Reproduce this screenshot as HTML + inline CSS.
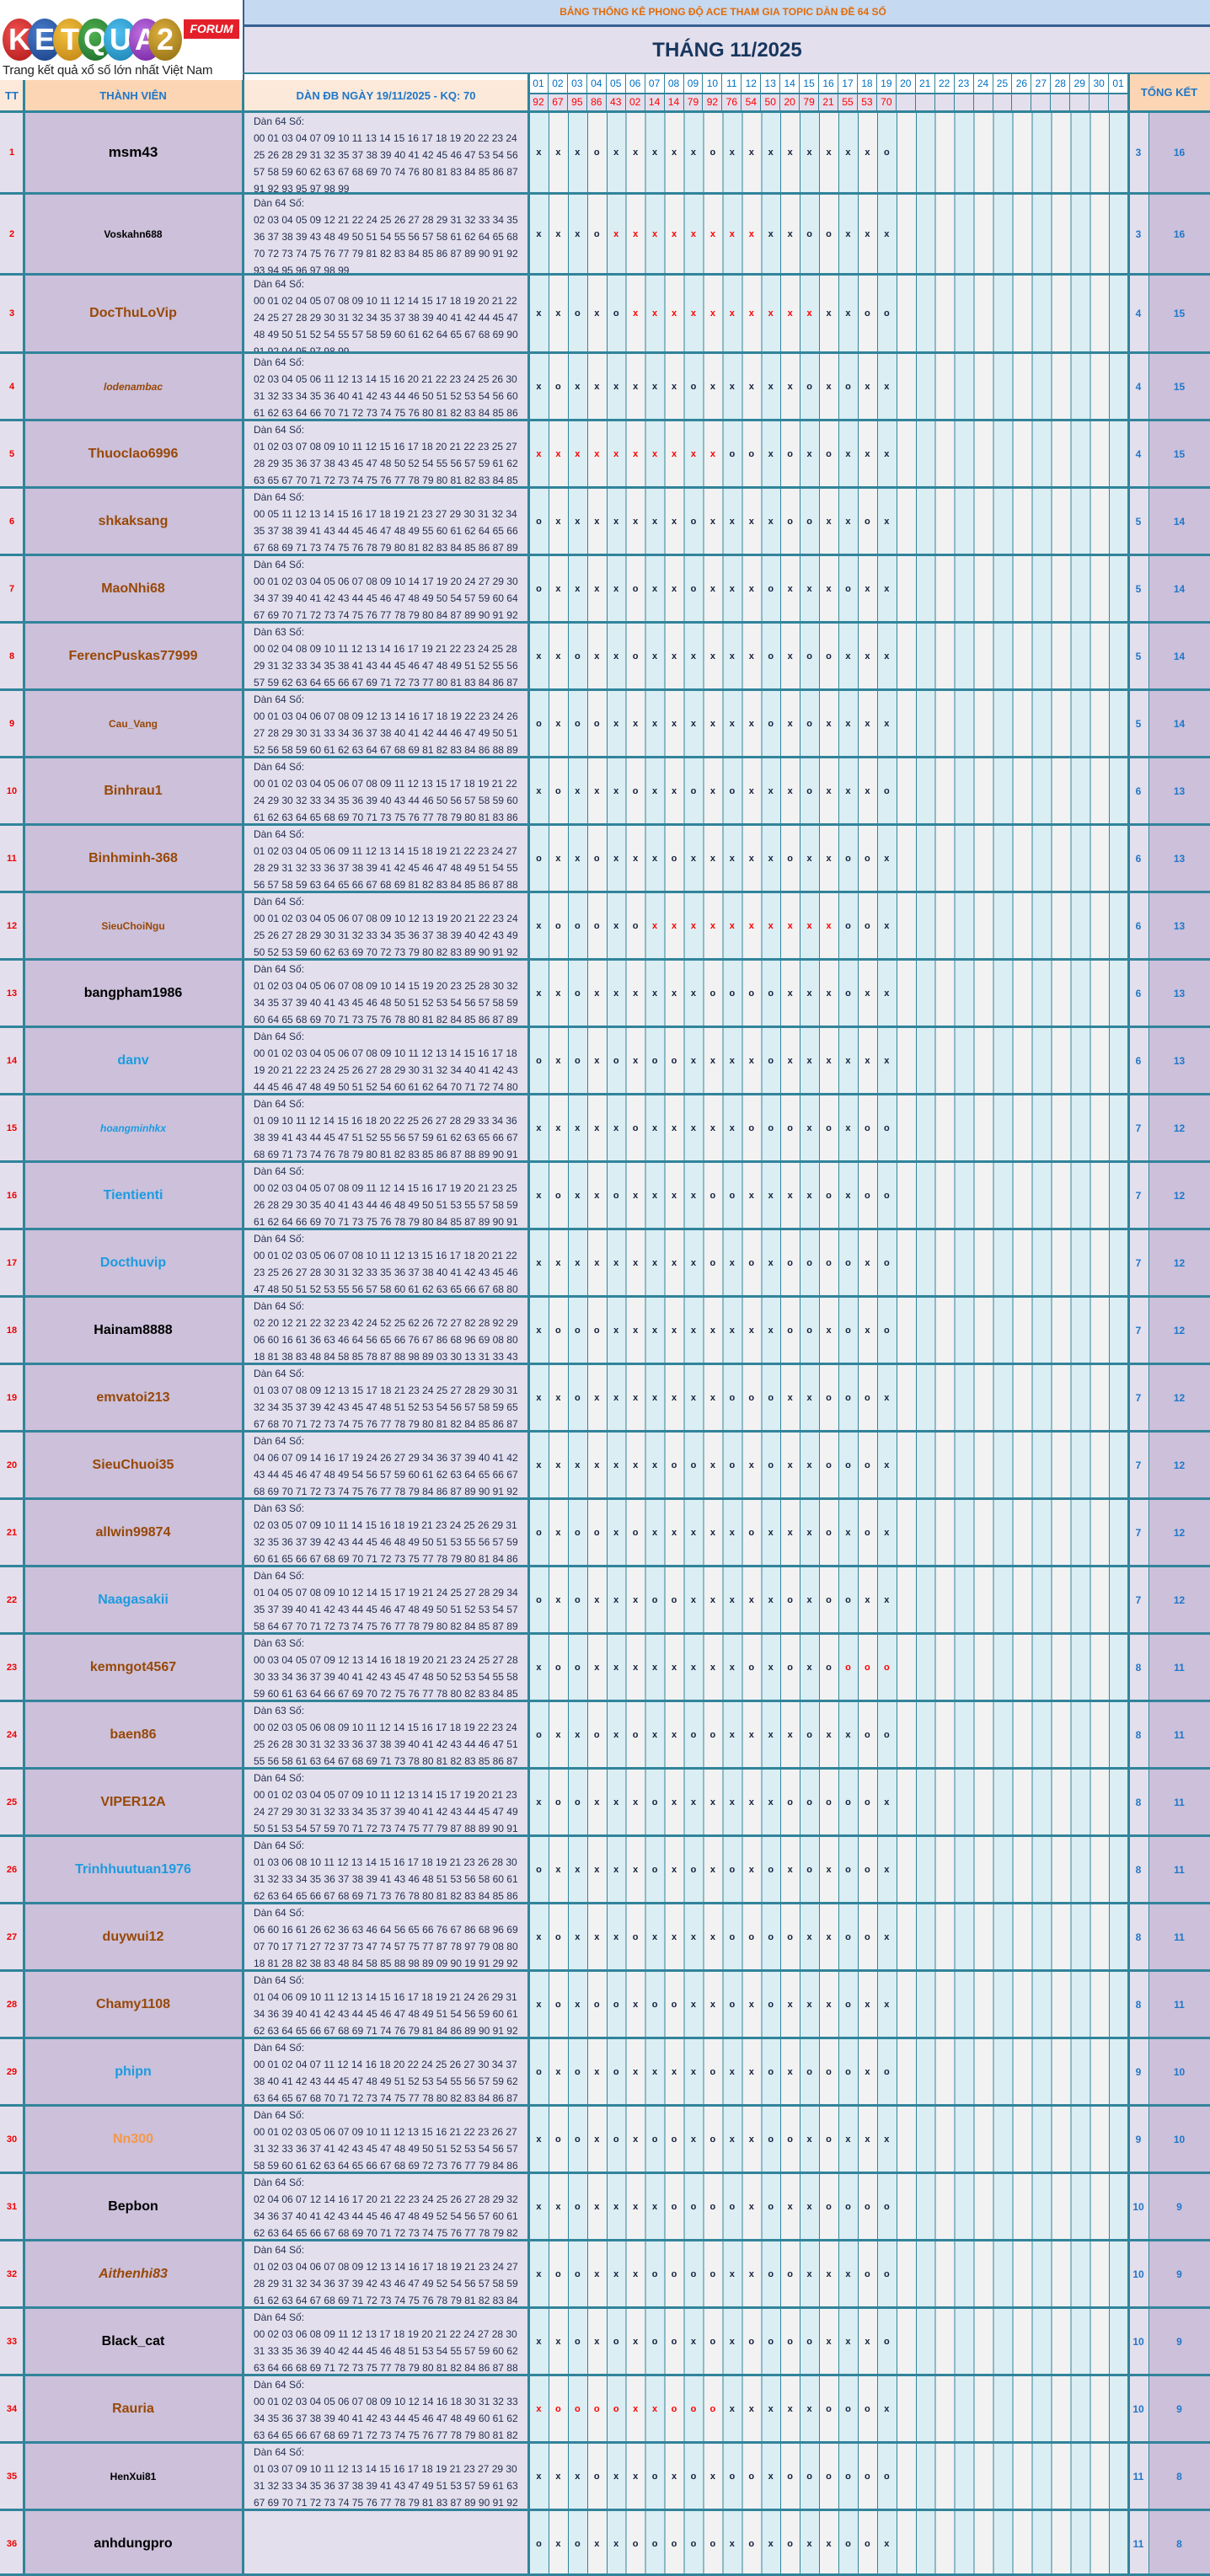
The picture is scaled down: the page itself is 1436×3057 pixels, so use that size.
<!DOCTYPE html>
<html><head><meta charset="utf-8">
<style>
*{box-sizing:border-box;margin:0;padding:0}
body{width:1436px;height:3057px;overflow:hidden;background:#fff;position:relative;font-family:"Liberation Sans","DejaVu Sans",sans-serif}
.a{position:absolute}
.logo{left:0;top:0;width:290px;height:95px;background:#fff}
.ball{position:absolute;top:22px;width:40px;height:50px;border-radius:50%;color:#fff;font-weight:bold;font-size:36px;line-height:50px;text-align:center;font-family:"Liberation Sans",sans-serif}
.days{left:628px;top:131px;width:711px;height:2926px;background:repeating-linear-gradient(to right,#31849b 0,#31849b 1px,#daeef3 1px,#daeef3 22.94px,#31849b 22.94px,#31849b 23.94px,#f2f2f2 23.94px,#f2f2f2 45.88px)}
.row{position:absolute;left:0;width:1436px;border-top:3px solid #31849b}
.row>div{position:absolute;top:0;height:100%}
.tt{left:0;width:28px;background:#e4dfec;color:#e00;font-weight:bold;font-size:11px;display:flex;align-items:center;justify-content:center}
.nm{left:28px;width:260px;background:#ccc0da;font-weight:bold;font-size:16px;display:flex;align-items:center;justify-content:center;color:#000}
.dn{left:288px;width:340px;background:#e4dfec;color:#1f2d4f;font-size:12px;line-height:20px;padding-left:13px;overflow:hidden;white-space:nowrap}
.mk{left:628px;width:711px;display:flex;align-items:center;white-space:nowrap;font-size:11px;font-weight:bold;color:#14213d}
.mk b{display:inline-block;width:22.94px;text-align:center}
.mk b.r{color:#f00}
.t1{left:1339px;width:24px;background:#e4dfec;color:#1f77c9;font-weight:bold;font-size:12px;display:flex;align-items:center;justify-content:center}
.t2{left:1363px;width:73px;background:#ccc0da;color:#1f77c9;font-weight:bold;font-size:12px;display:flex;align-items:center;justify-content:center}
.br{color:#984807}.bl{color:#1c9be0}.sm{font-size:12px}.it{font-style:italic}.or{color:#f79646}
.vl{position:absolute;background:#31849b}
.hd{position:absolute;top:95px;height:36px;display:flex;align-items:center;justify-content:center;color:#1f77c9;font-weight:bold;font-size:13px}
.dnum{position:absolute;top:88px;left:628px;width:711px;height:22px;display:flex;background:#fff}
.dnum span{width:22.94px;text-align:center;font-size:12px;color:#0070c0;line-height:22px;border-right:1px solid #31849b}
.res{position:absolute;top:110px;left:628px;width:711px;height:21px;display:flex;background:#e4dfec;border-top:2px solid #31849b}
.res span{width:22.94px;text-align:center;font-size:12px;color:#f00;line-height:19px;border-right:1px solid #31849b}
</style></head><body>
<div class="a logo">
<div class="ball" style="left:3px;background:radial-gradient(circle at 40% 35%,#f05050,#b01818)">K</div>
<div class="ball" style="left:33px;background:radial-gradient(circle at 40% 35%,#4a7fd0,#163c80)">E</div>
<div class="ball" style="left:63px;background:radial-gradient(circle at 40% 35%,#f0c040,#c08010)">T</div>
<div class="ball" style="left:93px;background:radial-gradient(circle at 40% 35%,#50b050,#1a6a2a)">Q</div>
<div class="ball" style="left:123px;background:radial-gradient(circle at 40% 35%,#50c0f0,#1880b0)">U</div>
<div class="ball" style="left:153px;background:radial-gradient(circle at 40% 35%,#c070e0,#7020a0)">A</div>
<div class="ball" style="left:176px;background:radial-gradient(circle at 40% 35%,#e0b040,#8a6a10)">2</div>
<div class="a" style="left:218px;top:23px;width:66px;height:23px;background:#e3202a;color:#fff;font-weight:bold;font-style:italic;font-size:14px;line-height:23px;text-align:center">FORUM</div>
<div class="a" style="left:3px;top:75px;width:285px;font-size:15px;color:#222;white-space:nowrap;letter-spacing:-0.2px">Trang kết quả xổ số lớn nhất Việt Nam</div>
</div>
<div class="a" style="left:290px;top:0;width:1146px;height:29px;background:#c5d9f1;color:#e26b0a;font-weight:bold;font-size:12px;line-height:29px;text-align:center;padding-right:10px">BẢNG THỐNG KÊ PHONG ĐỘ ACE THAM GIA TOPIC DÀN ĐỀ 64 SỐ</div>
<div class="a" style="left:290px;top:29px;width:1146px;height:3px;background:#376092"></div>
<div class="a" style="left:290px;top:32px;width:1146px;height:56px;background:#e4dfec;color:#17375e;font-weight:bold;font-size:24px;line-height:56px;text-align:center">THÁNG 11/2025</div>
<div class="a" style="left:288px;top:0;width:2px;height:95px;background:#376092"></div>
<div class="a" style="left:288px;top:86px;width:1148px;height:2px;background:#31849b"></div>
<div class="hd" style="left:0;width:28px;background:#fde9d9">TT</div>
<div class="hd" style="left:28px;width:260px;background:#fcd5b4">THÀNH VIÊN</div>
<div class="hd" style="left:288px;width:340px;background:#fde9d9">DÀN ĐB NGÀY 19/11/2025 - KQ: 70</div>
<div class="hd" style="left:1339px;width:97px;top:88px;height:43px;background:#fcd5b4">TỔNG KẾT</div>
<div class="dnum"><span>01</span><span>02</span><span>03</span><span>04</span><span>05</span><span>06</span><span>07</span><span>08</span><span>09</span><span>10</span><span>11</span><span>12</span><span>13</span><span>14</span><span>15</span><span>16</span><span>17</span><span>18</span><span>19</span><span>20</span><span>21</span><span>22</span><span>23</span><span>24</span><span>25</span><span>26</span><span>27</span><span>28</span><span>29</span><span>30</span><span>01</span></div>
<div class="res"><span>92</span><span>67</span><span>95</span><span>86</span><span>43</span><span>02</span><span>14</span><span>14</span><span>79</span><span>92</span><span>76</span><span>54</span><span>50</span><span>20</span><span>79</span><span>21</span><span>55</span><span>53</span><span>70</span><span></span><span></span><span></span><span></span><span></span><span></span><span></span><span></span><span></span><span></span><span></span><span></span></div>
<div class="a days"></div>

<div class="row" style="top:131px;height:97px"><div class="tt">1</div><div class="nm" style="font-size:17px">msm43</div><div class="dn">Dàn 64 Số:<br>00 01 03 04 07 09 10 11 13 14 15 16 17 18 19 20 22 23 24<br>25 26 28 29 31 32 35 37 38 39 40 41 42 45 46 47 53 54 56<br>57 58 59 60 62 63 67 68 69 70 74 76 80 81 83 84 85 86 87<br>91 92 93 95 97 98 99</div><div class="mk"><b>x</b><b>x</b><b>x</b><b>o</b><b>x</b><b>x</b><b>x</b><b>x</b><b>x</b><b>o</b><b>x</b><b>x</b><b>x</b><b>x</b><b>x</b><b>x</b><b>x</b><b>x</b><b>o</b></div><div class="t1">3</div><div class="t2">16</div></div>

<div class="row" style="top:228px;height:96px"><div class="tt">2</div><div class="nm sm">Voskahn688</div><div class="dn">Dàn 64 Số:<br>02 03 04 05 09 12 21 22 24 25 26 27 28 29 31 32 33 34 35<br>36 37 38 39 43 48 49 50 51 54 55 56 57 58 61 62 64 65 68<br>70 72 73 74 75 76 77 79 81 82 83 84 85 86 87 89 90 91 92<br>93 94 95 96 97 98 99</div><div class="mk"><b>x</b><b>x</b><b>x</b><b>o</b><b class="r">x</b><b class="r">x</b><b class="r">x</b><b class="r">x</b><b class="r">x</b><b class="r">x</b><b class="r">x</b><b class="r">x</b><b>x</b><b>x</b><b>o</b><b>o</b><b>x</b><b>x</b><b>x</b></div><div class="t1">3</div><div class="t2">16</div></div>

<div class="row" style="top:324px;height:93px"><div class="tt">3</div><div class="nm br">DocThuLoVip</div><div class="dn">Dàn 64 Số:<br>00 01 02 04 05 07 08 09 10 11 12 14 15 17 18 19 20 21 22<br>24 25 27 28 29 30 31 32 34 35 37 38 39 40 41 42 44 45 47<br>48 49 50 51 52 54 55 57 58 59 60 61 62 64 65 67 68 69 90<br>91 92 94 95 97 98 99</div><div class="mk"><b>x</b><b>x</b><b>o</b><b>x</b><b>o</b><b class="r">x</b><b class="r">x</b><b class="r">x</b><b class="r">x</b><b class="r">x</b><b class="r">x</b><b class="r">x</b><b class="r">x</b><b class="r">x</b><b class="r">x</b><b>x</b><b>x</b><b>o</b><b>o</b></div><div class="t1">4</div><div class="t2">15</div></div>

<div class="row" style="top:417px;height:80px"><div class="tt">4</div><div class="nm br sm it">lodenambac</div><div class="dn">Dàn 64 Số:<br>02 03 04 05 06 11 12 13 14 15 16 20 21 22 23 24 25 26 30<br>31 32 33 34 35 36 40 41 42 43 44 46 50 51 52 53 54 56 60<br>61 62 63 64 66 70 71 72 73 74 75 76 80 81 82 83 84 85 86</div><div class="mk"><b>x</b><b>o</b><b>x</b><b>x</b><b>x</b><b>x</b><b>x</b><b>x</b><b>o</b><b>x</b><b>x</b><b>x</b><b>x</b><b>x</b><b>o</b><b>x</b><b>o</b><b>x</b><b>x</b></div><div class="t1">4</div><div class="t2">15</div></div>

<div class="row" style="top:497px;height:80px"><div class="tt">5</div><div class="nm br">Thuoclao6996</div><div class="dn">Dàn 64 Số:<br>01 02 03 07 08 09 10 11 12 15 16 17 18 20 21 22 23 25 27<br>28 29 35 36 37 38 43 45 47 48 50 52 54 55 56 57 59 61 62<br>63 65 67 70 71 72 73 74 75 76 77 78 79 80 81 82 83 84 85</div><div class="mk"><b class="r">x</b><b class="r">x</b><b class="r">x</b><b class="r">x</b><b class="r">x</b><b class="r">x</b><b class="r">x</b><b class="r">x</b><b class="r">x</b><b class="r">x</b><b>o</b><b>o</b><b>x</b><b>o</b><b>x</b><b>o</b><b>x</b><b>x</b><b>x</b></div><div class="t1">4</div><div class="t2">15</div></div>

<div class="row" style="top:577px;height:80px"><div class="tt">6</div><div class="nm br">shkaksang</div><div class="dn">Dàn 64 Số:<br>00 05 11 12 13 14 15 16 17 18 19 21 23 27 29 30 31 32 34<br>35 37 38 39 41 43 44 45 46 47 48 49 55 60 61 62 64 65 66<br>67 68 69 71 73 74 75 76 78 79 80 81 82 83 84 85 86 87 89</div><div class="mk"><b>o</b><b>x</b><b>x</b><b>x</b><b>x</b><b>x</b><b>x</b><b>x</b><b>o</b><b>x</b><b>x</b><b>x</b><b>x</b><b>o</b><b>o</b><b>x</b><b>x</b><b>o</b><b>x</b></div><div class="t1">5</div><div class="t2">14</div></div>

<div class="row" style="top:657px;height:80px"><div class="tt">7</div><div class="nm br">MaoNhi68</div><div class="dn">Dàn 64 Số:<br>00 01 02 03 04 05 06 07 08 09 10 14 17 19 20 24 27 29 30<br>34 37 39 40 41 42 43 44 45 46 47 48 49 50 54 57 59 60 64<br>67 69 70 71 72 73 74 75 76 77 78 79 80 84 87 89 90 91 92</div><div class="mk"><b>o</b><b>x</b><b>x</b><b>x</b><b>x</b><b>o</b><b>x</b><b>x</b><b>o</b><b>x</b><b>x</b><b>x</b><b>o</b><b>x</b><b>x</b><b>x</b><b>o</b><b>x</b><b>x</b></div><div class="t1">5</div><div class="t2">14</div></div>

<div class="row" style="top:737px;height:80px"><div class="tt">8</div><div class="nm br">FerencPuskas77999</div><div class="dn">Dàn 63 Số:<br>00 02 04 08 09 10 11 12 13 14 16 17 19 21 22 23 24 25 28<br>29 31 32 33 34 35 38 41 43 44 45 46 47 48 49 51 52 55 56<br>57 59 62 63 64 65 66 67 69 71 72 73 77 80 81 83 84 86 87</div><div class="mk"><b>x</b><b>x</b><b>o</b><b>x</b><b>x</b><b>o</b><b>x</b><b>x</b><b>x</b><b>x</b><b>x</b><b>x</b><b>o</b><b>x</b><b>o</b><b>o</b><b>x</b><b>x</b><b>x</b></div><div class="t1">5</div><div class="t2">14</div></div>

<div class="row" style="top:817px;height:80px"><div class="tt">9</div><div class="nm br sm">Cau_Vang</div><div class="dn">Dàn 64 Số:<br>00 01 03 04 06 07 08 09 12 13 14 16 17 18 19 22 23 24 26<br>27 28 29 30 31 33 34 36 37 38 40 41 42 44 46 47 49 50 51<br>52 56 58 59 60 61 62 63 64 67 68 69 81 82 83 84 86 88 89</div><div class="mk"><b>o</b><b>x</b><b>o</b><b>o</b><b>x</b><b>x</b><b>x</b><b>x</b><b>x</b><b>x</b><b>x</b><b>x</b><b>o</b><b>x</b><b>o</b><b>x</b><b>x</b><b>x</b><b>x</b></div><div class="t1">5</div><div class="t2">14</div></div>

<div class="row" style="top:897px;height:80px"><div class="tt">10</div><div class="nm br">Binhrau1</div><div class="dn">Dàn 64 Số:<br>00 01 02 03 04 05 06 07 08 09 11 12 13 15 17 18 19 21 22<br>24 29 30 32 33 34 35 36 39 40 43 44 46 50 56 57 58 59 60<br>61 62 63 64 65 68 69 70 71 73 75 76 77 78 79 80 81 83 86</div><div class="mk"><b>x</b><b>o</b><b>x</b><b>x</b><b>x</b><b>o</b><b>x</b><b>x</b><b>o</b><b>x</b><b>o</b><b>x</b><b>x</b><b>x</b><b>o</b><b>x</b><b>x</b><b>x</b><b>o</b></div><div class="t1">6</div><div class="t2">13</div></div>

<div class="row" style="top:977px;height:80px"><div class="tt">11</div><div class="nm br">Binhminh-368</div><div class="dn">Dàn 64 Số:<br>01 02 03 04 05 06 09 11 12 13 14 15 18 19 21 22 23 24 27<br>28 29 31 32 33 36 37 38 39 41 42 45 46 47 48 49 51 54 55<br>56 57 58 59 63 64 65 66 67 68 69 81 82 83 84 85 86 87 88</div><div class="mk"><b>o</b><b>x</b><b>x</b><b>o</b><b>x</b><b>x</b><b>x</b><b>o</b><b>x</b><b>x</b><b>x</b><b>x</b><b>x</b><b>o</b><b>x</b><b>x</b><b>o</b><b>o</b><b>x</b></div><div class="t1">6</div><div class="t2">13</div></div>

<div class="row" style="top:1057px;height:80px"><div class="tt">12</div><div class="nm br sm">SieuChoiNgu</div><div class="dn">Dàn 64 Số:<br>00 01 02 03 04 05 06 07 08 09 10 12 13 19 20 21 22 23 24<br>25 26 27 28 29 30 31 32 33 34 35 36 37 38 39 40 42 43 49<br>50 52 53 59 60 62 63 69 70 72 73 79 80 82 83 89 90 91 92</div><div class="mk"><b>x</b><b>o</b><b>o</b><b>o</b><b>x</b><b>o</b><b class="r">x</b><b class="r">x</b><b class="r">x</b><b class="r">x</b><b class="r">x</b><b class="r">x</b><b class="r">x</b><b class="r">x</b><b class="r">x</b><b class="r">x</b><b>o</b><b>o</b><b>x</b></div><div class="t1">6</div><div class="t2">13</div></div>

<div class="row" style="top:1137px;height:80px"><div class="tt">13</div><div class="nm">bangpham1986</div><div class="dn">Dàn 64 Số:<br>01 02 03 04 05 06 07 08 09 10 14 15 19 20 23 25 28 30 32<br>34 35 37 39 40 41 43 45 46 48 50 51 52 53 54 56 57 58 59<br>60 64 65 68 69 70 71 73 75 76 78 80 81 82 84 85 86 87 89</div><div class="mk"><b>x</b><b>x</b><b>o</b><b>x</b><b>x</b><b>x</b><b>x</b><b>x</b><b>x</b><b>o</b><b>o</b><b>o</b><b>o</b><b>x</b><b>x</b><b>x</b><b>o</b><b>x</b><b>x</b></div><div class="t1">6</div><div class="t2">13</div></div>

<div class="row" style="top:1217px;height:80px"><div class="tt">14</div><div class="nm bl">danv</div><div class="dn">Dàn 64 Số:<br>00 01 02 03 04 05 06 07 08 09 10 11 12 13 14 15 16 17 18<br>19 20 21 22 23 24 25 26 27 28 29 30 31 32 34 40 41 42 43<br>44 45 46 47 48 49 50 51 52 54 60 61 62 64 70 71 72 74 80</div><div class="mk"><b>o</b><b>x</b><b>o</b><b>x</b><b>o</b><b>x</b><b>o</b><b>o</b><b>x</b><b>x</b><b>x</b><b>x</b><b>o</b><b>x</b><b>x</b><b>x</b><b>x</b><b>x</b><b>x</b></div><div class="t1">6</div><div class="t2">13</div></div>

<div class="row" style="top:1297px;height:80px"><div class="tt">15</div><div class="nm bl sm it">hoangminhkx</div><div class="dn">Dàn 64 Số:<br>01 09 10 11 12 14 15 16 18 20 22 25 26 27 28 29 33 34 36<br>38 39 41 43 44 45 47 51 52 55 56 57 59 61 62 63 65 66 67<br>68 69 71 73 74 76 78 79 80 81 82 83 85 86 87 88 89 90 91</div><div class="mk"><b>x</b><b>x</b><b>x</b><b>x</b><b>x</b><b>o</b><b>x</b><b>x</b><b>x</b><b>x</b><b>x</b><b>o</b><b>o</b><b>o</b><b>x</b><b>o</b><b>x</b><b>o</b><b>o</b></div><div class="t1">7</div><div class="t2">12</div></div>

<div class="row" style="top:1377px;height:80px"><div class="tt">16</div><div class="nm bl">Tientienti</div><div class="dn">Dàn 64 Số:<br>00 02 03 04 05 07 08 09 11 12 14 15 16 17 19 20 21 23 25<br>26 28 29 30 35 40 41 43 44 46 48 49 50 51 53 55 57 58 59<br>61 62 64 66 69 70 71 73 75 76 78 79 80 84 85 87 89 90 91</div><div class="mk"><b>x</b><b>o</b><b>x</b><b>x</b><b>o</b><b>x</b><b>x</b><b>x</b><b>x</b><b>o</b><b>o</b><b>x</b><b>x</b><b>x</b><b>x</b><b>o</b><b>x</b><b>o</b><b>o</b></div><div class="t1">7</div><div class="t2">12</div></div>

<div class="row" style="top:1457px;height:80px"><div class="tt">17</div><div class="nm bl">Docthuvip</div><div class="dn">Dàn 64 Số:<br>00 01 02 03 05 06 07 08 10 11 12 13 15 16 17 18 20 21 22<br>23 25 26 27 28 30 31 32 33 35 36 37 38 40 41 42 43 45 46<br>47 48 50 51 52 53 55 56 57 58 60 61 62 63 65 66 67 68 80</div><div class="mk"><b>x</b><b>x</b><b>x</b><b>x</b><b>x</b><b>x</b><b>x</b><b>x</b><b>x</b><b>o</b><b>x</b><b>o</b><b>x</b><b>o</b><b>o</b><b>o</b><b>o</b><b>x</b><b>o</b></div><div class="t1">7</div><div class="t2">12</div></div>

<div class="row" style="top:1537px;height:80px"><div class="tt">18</div><div class="nm">Hainam8888</div><div class="dn">Dàn 64 Số:<br>02 20 12 21 22 32 23 42 24 52 25 62 26 72 27 82 28 92 29<br>06 60 16 61 36 63 46 64 56 65 66 76 67 86 68 96 69 08 80<br>18 81 38 83 48 84 58 85 78 87 88 98 89 03 30 13 31 33 43</div><div class="mk"><b>x</b><b>o</b><b>o</b><b>o</b><b>x</b><b>x</b><b>x</b><b>x</b><b>x</b><b>x</b><b>x</b><b>x</b><b>x</b><b>o</b><b>o</b><b>x</b><b>o</b><b>x</b><b>o</b></div><div class="t1">7</div><div class="t2">12</div></div>

<div class="row" style="top:1617px;height:80px"><div class="tt">19</div><div class="nm br">emvatoi213</div><div class="dn">Dàn 64 Số:<br>01 03 07 08 09 12 13 15 17 18 21 23 24 25 27 28 29 30 31<br>32 34 35 37 39 42 43 45 47 48 51 52 53 54 56 57 58 59 65<br>67 68 70 71 72 73 74 75 76 77 78 79 80 81 82 84 85 86 87</div><div class="mk"><b>x</b><b>x</b><b>o</b><b>x</b><b>x</b><b>x</b><b>x</b><b>x</b><b>x</b><b>x</b><b>o</b><b>o</b><b>o</b><b>x</b><b>x</b><b>o</b><b>o</b><b>o</b><b>x</b></div><div class="t1">7</div><div class="t2">12</div></div>

<div class="row" style="top:1697px;height:80px"><div class="tt">20</div><div class="nm br">SieuChuoi35</div><div class="dn">Dàn 64 Số:<br>04 06 07 09 14 16 17 19 24 26 27 29 34 36 37 39 40 41 42<br>43 44 45 46 47 48 49 54 56 57 59 60 61 62 63 64 65 66 67<br>68 69 70 71 72 73 74 75 76 77 78 79 84 86 87 89 90 91 92</div><div class="mk"><b>x</b><b>x</b><b>x</b><b>x</b><b>x</b><b>x</b><b>x</b><b>o</b><b>o</b><b>x</b><b>o</b><b>x</b><b>o</b><b>x</b><b>x</b><b>o</b><b>o</b><b>o</b><b>x</b></div><div class="t1">7</div><div class="t2">12</div></div>

<div class="row" style="top:1777px;height:80px"><div class="tt">21</div><div class="nm br">allwin99874</div><div class="dn">Dàn 63 Số:<br>02 03 05 07 09 10 11 14 15 16 18 19 21 23 24 25 26 29 31<br>32 35 36 37 39 42 43 44 45 46 48 49 50 51 53 55 56 57 59<br>60 61 65 66 67 68 69 70 71 72 73 75 77 78 79 80 81 84 86</div><div class="mk"><b>o</b><b>x</b><b>o</b><b>o</b><b>x</b><b>o</b><b>x</b><b>x</b><b>x</b><b>x</b><b>x</b><b>o</b><b>x</b><b>x</b><b>x</b><b>o</b><b>x</b><b>o</b><b>x</b></div><div class="t1">7</div><div class="t2">12</div></div>

<div class="row" style="top:1857px;height:80px"><div class="tt">22</div><div class="nm bl">Naagasakii</div><div class="dn">Dàn 64 Số:<br>01 04 05 07 08 09 10 12 14 15 17 19 21 24 25 27 28 29 34<br>35 37 39 40 41 42 43 44 45 46 47 48 49 50 51 52 53 54 57<br>58 64 67 70 71 72 73 74 75 76 77 78 79 80 82 84 85 87 89</div><div class="mk"><b>o</b><b>x</b><b>o</b><b>x</b><b>x</b><b>x</b><b>o</b><b>o</b><b>x</b><b>x</b><b>x</b><b>x</b><b>x</b><b>o</b><b>x</b><b>o</b><b>o</b><b>x</b><b>x</b></div><div class="t1">7</div><div class="t2">12</div></div>

<div class="row" style="top:1937px;height:80px"><div class="tt">23</div><div class="nm br">kemngot4567</div><div class="dn">Dàn 63 Số:<br>00 03 04 05 07 09 12 13 14 16 18 19 20 21 23 24 25 27 28<br>30 33 34 36 37 39 40 41 42 43 45 47 48 50 52 53 54 55 58<br>59 60 61 63 64 66 67 69 70 72 75 76 77 78 80 82 83 84 85</div><div class="mk"><b>x</b><b>o</b><b>o</b><b>x</b><b>x</b><b>x</b><b>x</b><b>x</b><b>x</b><b>x</b><b>x</b><b>o</b><b>x</b><b>o</b><b>x</b><b>o</b><b class="r">o</b><b class="r">o</b><b class="r">o</b></div><div class="t1">8</div><div class="t2">11</div></div>

<div class="row" style="top:2017px;height:80px"><div class="tt">24</div><div class="nm br">baen86</div><div class="dn">Dàn 63 Số:<br>00 02 03 05 06 08 09 10 11 12 14 15 16 17 18 19 22 23 24<br>25 26 28 30 31 32 33 36 37 38 39 40 41 42 43 44 46 47 51<br>55 56 58 61 63 64 67 68 69 71 73 78 80 81 82 83 85 86 87</div><div class="mk"><b>o</b><b>x</b><b>x</b><b>o</b><b>x</b><b>o</b><b>x</b><b>x</b><b>o</b><b>o</b><b>x</b><b>x</b><b>x</b><b>x</b><b>o</b><b>x</b><b>x</b><b>o</b><b>o</b></div><div class="t1">8</div><div class="t2">11</div></div>

<div class="row" style="top:2097px;height:80px"><div class="tt">25</div><div class="nm br">VIPER12A</div><div class="dn">Dàn 64 Số:<br>00 01 02 03 04 05 07 09 10 11 12 13 14 15 17 19 20 21 23<br>24 27 29 30 31 32 33 34 35 37 39 40 41 42 43 44 45 47 49<br>50 51 53 54 57 59 70 71 72 73 74 75 77 79 87 88 89 90 91</div><div class="mk"><b>x</b><b>o</b><b>o</b><b>x</b><b>x</b><b>x</b><b>o</b><b>x</b><b>x</b><b>x</b><b>x</b><b>x</b><b>x</b><b>o</b><b>o</b><b>o</b><b>o</b><b>o</b><b>x</b></div><div class="t1">8</div><div class="t2">11</div></div>

<div class="row" style="top:2177px;height:80px"><div class="tt">26</div><div class="nm bl">Trinhhuutuan1976</div><div class="dn">Dàn 64 Số:<br>01 03 06 08 10 11 12 13 14 15 16 17 18 19 21 23 26 28 30<br>31 32 33 34 35 36 37 38 39 41 43 46 48 51 53 56 58 60 61<br>62 63 64 65 66 67 68 69 71 73 76 78 80 81 82 83 84 85 86</div><div class="mk"><b>o</b><b>x</b><b>x</b><b>x</b><b>x</b><b>x</b><b>o</b><b>x</b><b>o</b><b>x</b><b>o</b><b>x</b><b>o</b><b>x</b><b>o</b><b>x</b><b>o</b><b>o</b><b>x</b></div><div class="t1">8</div><div class="t2">11</div></div>

<div class="row" style="top:2257px;height:80px"><div class="tt">27</div><div class="nm br">duywui12</div><div class="dn">Dàn 64 Số:<br>06 60 16 61 26 62 36 63 46 64 56 65 66 76 67 86 68 96 69<br>07 70 17 71 27 72 37 73 47 74 57 75 77 87 78 97 79 08 80<br>18 81 28 82 38 83 48 84 58 85 88 98 89 09 90 19 91 29 92</div><div class="mk"><b>x</b><b>o</b><b>x</b><b>x</b><b>x</b><b>o</b><b>x</b><b>x</b><b>x</b><b>x</b><b>o</b><b>o</b><b>o</b><b>o</b><b>x</b><b>x</b><b>o</b><b>o</b><b>x</b></div><div class="t1">8</div><div class="t2">11</div></div>

<div class="row" style="top:2337px;height:80px"><div class="tt">28</div><div class="nm br">Chamy1108</div><div class="dn">Dàn 64 Số:<br>01 04 06 09 10 11 12 13 14 15 16 17 18 19 21 24 26 29 31<br>34 36 39 40 41 42 43 44 45 46 47 48 49 51 54 56 59 60 61<br>62 63 64 65 66 67 68 69 71 74 76 79 81 84 86 89 90 91 92</div><div class="mk"><b>x</b><b>o</b><b>x</b><b>o</b><b>o</b><b>x</b><b>o</b><b>o</b><b>x</b><b>x</b><b>o</b><b>x</b><b>o</b><b>x</b><b>x</b><b>x</b><b>o</b><b>x</b><b>x</b></div><div class="t1">8</div><div class="t2">11</div></div>

<div class="row" style="top:2417px;height:80px"><div class="tt">29</div><div class="nm bl">phipn</div><div class="dn">Dàn 64 Số:<br>00 01 02 04 07 11 12 14 16 18 20 22 24 25 26 27 30 34 37<br>38 40 41 42 43 44 45 47 48 49 51 52 53 54 55 56 57 59 62<br>63 64 65 67 68 70 71 72 73 74 75 77 78 80 82 83 84 86 87</div><div class="mk"><b>o</b><b>x</b><b>o</b><b>x</b><b>o</b><b>x</b><b>x</b><b>x</b><b>x</b><b>o</b><b>x</b><b>x</b><b>o</b><b>x</b><b>o</b><b>o</b><b>o</b><b>x</b><b>o</b></div><div class="t1">9</div><div class="t2">10</div></div>

<div class="row" style="top:2497px;height:80px"><div class="tt">30</div><div class="nm or">Nn300</div><div class="dn">Dàn 64 Số:<br>00 01 02 03 05 06 07 09 10 11 12 13 15 16 21 22 23 26 27<br>31 32 33 36 37 41 42 43 45 47 48 49 50 51 52 53 54 56 57<br>58 59 60 61 62 63 64 65 66 67 68 69 72 73 76 77 79 84 86</div><div class="mk"><b>x</b><b>o</b><b>o</b><b>x</b><b>o</b><b>x</b><b>o</b><b>o</b><b>x</b><b>o</b><b>x</b><b>x</b><b>o</b><b>o</b><b>x</b><b>o</b><b>x</b><b>x</b><b>x</b></div><div class="t1">9</div><div class="t2">10</div></div>

<div class="row" style="top:2577px;height:80px"><div class="tt">31</div><div class="nm">Bepbon</div><div class="dn">Dàn 64 Số:<br>02 04 06 07 12 14 16 17 20 21 22 23 24 25 26 27 28 29 32<br>34 36 37 40 41 42 43 44 45 46 47 48 49 52 54 56 57 60 61<br>62 63 64 65 66 67 68 69 70 71 72 73 74 75 76 77 78 79 82</div><div class="mk"><b>x</b><b>x</b><b>o</b><b>x</b><b>x</b><b>x</b><b>x</b><b>o</b><b>o</b><b>o</b><b>o</b><b>x</b><b>o</b><b>x</b><b>x</b><b>o</b><b>o</b><b>o</b><b>o</b></div><div class="t1">10</div><div class="t2">9</div></div>

<div class="row" style="top:2657px;height:80px"><div class="tt">32</div><div class="nm br it">Aithenhi83</div><div class="dn">Dàn 64 Số:<br>01 02 03 04 06 07 08 09 12 13 14 16 17 18 19 21 23 24 27<br>28 29 31 32 34 36 37 39 42 43 46 47 49 52 54 56 57 58 59<br>61 62 63 64 67 68 69 71 72 73 74 75 76 78 79 81 82 83 84</div><div class="mk"><b>x</b><b>o</b><b>o</b><b>x</b><b>x</b><b>x</b><b>o</b><b>o</b><b>o</b><b>o</b><b>x</b><b>x</b><b>o</b><b>o</b><b>x</b><b>x</b><b>x</b><b>o</b><b>o</b></div><div class="t1">10</div><div class="t2">9</div></div>

<div class="row" style="top:2737px;height:80px"><div class="tt">33</div><div class="nm">Black_cat</div><div class="dn">Dàn 64 Số:<br>00 02 03 06 08 09 11 12 13 17 18 19 20 21 22 24 27 28 30<br>31 33 35 36 39 40 42 44 45 46 48 51 53 54 55 57 59 60 62<br>63 64 66 68 69 71 72 73 75 77 78 79 80 81 82 84 86 87 88</div><div class="mk"><b>x</b><b>x</b><b>o</b><b>x</b><b>o</b><b>x</b><b>o</b><b>o</b><b>x</b><b>o</b><b>x</b><b>o</b><b>o</b><b>o</b><b>o</b><b>x</b><b>x</b><b>x</b><b>o</b></div><div class="t1">10</div><div class="t2">9</div></div>

<div class="row" style="top:2817px;height:80px"><div class="tt">34</div><div class="nm br">Rauria</div><div class="dn">Dàn 64 Số:<br>00 01 02 03 04 05 06 07 08 09 10 12 14 16 18 30 31 32 33<br>34 35 36 37 38 39 40 41 42 43 44 45 46 47 48 49 60 61 62<br>63 64 65 66 67 68 69 71 72 73 74 75 76 77 78 79 80 81 82</div><div class="mk"><b class="r">x</b><b class="r">o</b><b class="r">o</b><b class="r">o</b><b class="r">o</b><b class="r">x</b><b class="r">x</b><b class="r">o</b><b class="r">o</b><b class="r">o</b><b>x</b><b>x</b><b>x</b><b>x</b><b>x</b><b>o</b><b>o</b><b>o</b><b>x</b></div><div class="t1">10</div><div class="t2">9</div></div>

<div class="row" style="top:2897px;height:80px"><div class="tt">35</div><div class="nm sm">HenXui81</div><div class="dn">Dàn 64 Số:<br>01 03 07 09 10 11 12 13 14 15 16 17 18 19 21 23 27 29 30<br>31 32 33 34 35 36 37 38 39 41 43 47 49 51 53 57 59 61 63<br>67 69 70 71 72 73 74 75 76 77 78 79 81 83 87 89 90 91 92</div><div class="mk"><b>x</b><b>x</b><b>x</b><b>o</b><b>x</b><b>x</b><b>o</b><b>x</b><b>o</b><b>x</b><b>o</b><b>o</b><b>x</b><b>o</b><b>o</b><b>o</b><b>o</b><b>o</b><b>o</b></div><div class="t1">11</div><div class="t2">8</div></div>

<div class="row" style="top:2977px;height:80px"><div class="tt">36</div><div class="nm">anhdungpro</div><div class="dn"></div><div class="mk"><b>o</b><b>x</b><b>o</b><b>x</b><b>x</b><b>o</b><b>o</b><b>o</b><b>o</b><b>o</b><b>x</b><b>o</b><b>x</b><b>o</b><b>x</b><b>x</b><b>o</b><b>o</b><b>x</b></div><div class="t1">11</div><div class="t2">8</div></div>

<div class="vl" style="left:27px;top:95px;width:3px;height:2962px"></div>
<div class="vl" style="left:287px;top:95px;width:3px;height:2962px"></div>
<div class="vl" style="left:626px;top:88px;width:3px;height:2969px"></div>
<div class="vl" style="left:1338px;top:88px;width:3px;height:2969px"></div>
<div class="vl" style="left:1363px;top:131px;width:1px;height:2926px"></div>
<div class="vl" style="left:0;top:3054px;width:1436px;height:3px"></div>
</body></html>
